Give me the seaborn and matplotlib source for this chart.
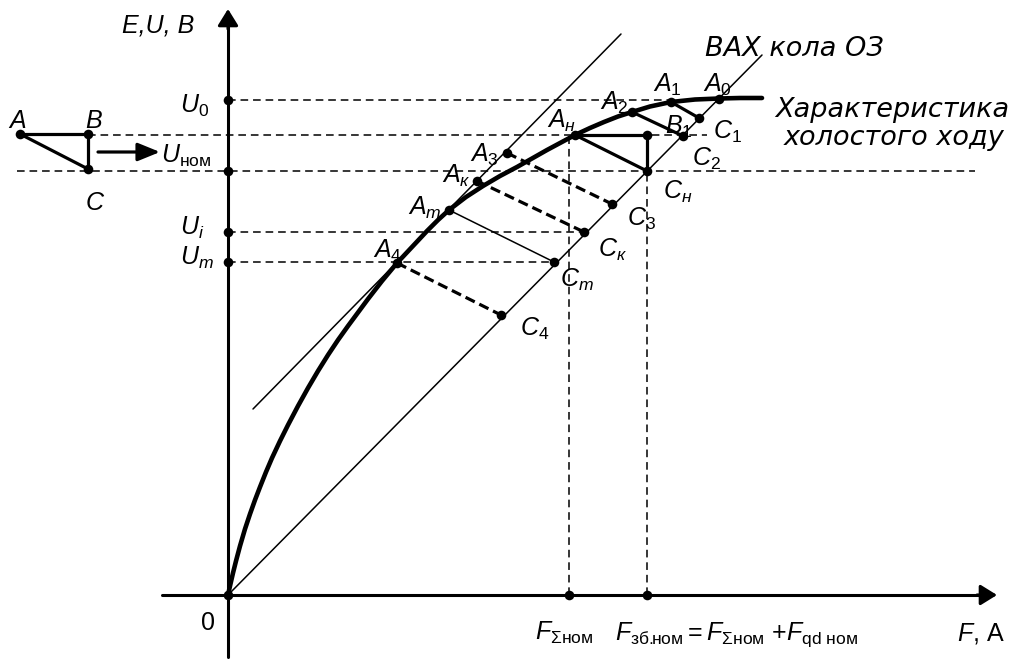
import matplotlib
matplotlib.use("Agg")
import matplotlib.pyplot as plt
import seaborn as sns
import numpy as np
import pandas as pd

# ---------------- data (F along horizontal, E/U along vertical) ----------------
# no-load characteristic ("Характеристика холостого ходу")
curve_F = [0, 2, 5, 8, 12, 17, 22, 27, 32, 38, 44, 52, 60, 70, 80, 90, 100, 110, 120, 130,
           140, 154, 169, 184, 199, 210, 221, 238, 255, 272, 289, 304, 319, 333, 347, 362,
           376, 390, 404, 422, 443, 467, 491, 512, 534]
curve_E = [0, 9, 22, 34, 49, 66, 81, 95, 108, 123, 137, 154, 170, 189, 207, 224, 240, 255, 269, 282.5,
           296, 314, 332, 348, 364, 375, 385, 398, 409, 419, 428, 436.5, 445, 452.5, 460, 467,
           473, 478.5, 483, 488.5, 493, 495.5, 496.5, 497, 497]

# straight volt-ampere characteristic of the circuit ("ВАХ кола ОЗ")
vax_F = [0, 534]
vax_E = [0, 540]

# thin tangent line parallel to the circuit line
tangent_F = [25, 393]
tangent_E = [186, 561]

# named construction points
point_names = ["O", "A0", "A1", "A2", "Aн", "A3", "Aк", "Am", "A4",
               "C1", "B1", "B", "Cн", "C3", "Cк", "Cm", "C4"]
point_F = [0, 491, 443, 404, 347, 279, 249, 221, 169,
           471, 455, 419, 419, 384, 356, 326, 273]
point_E = [0, 496, 493, 483, 460, 442, 414, 385, 332,
           477, 459, 460, 424, 391, 363, 333, 280]

# voltage levels marked on the vertical axis
u_names = ["U0", "Uном", "Ui", "Um"]
u_E = [495, 424, 363, 333]

# MMF values marked on the horizontal axis
f_names = ["FΣном", "Fзб.ном"]
f_F = [341, 419]

# small explanatory triangle A-B-C
tri_names = ["A", "B", "C"]
tri_F = [-208, -140, -140]
tri_E = [461, 461, 426]

# ---------------- style ----------------
sns.set_style("white")
plt.rcParams['font.family'] = ['Liberation Sans', 'DejaVu Sans']
plt.rcParams['text.color'] = 'black'
plt.rcParams['mathtext.fontset'] = 'custom'
plt.rcParams['mathtext.rm'] = 'Liberation Sans'
plt.rcParams['mathtext.it'] = 'Liberation Sans:italic'
plt.rcParams['mathtext.bf'] = 'Liberation Sans:bold'
plt.rcParams['mathtext.sf'] = 'Liberation Sans'
plt.rcParams['mathtext.default'] = 'it'

fig = plt.figure(figsize=(10.22, 6.59), dpi=100)
ax = fig.add_axes([0, 0, 1, 1])
ax.set_xlim(-228, 794)
ax.set_ylim(-64, 595)
ax.axis('off')

P = dict(zip(point_names, zip(point_F, point_E)))
U = dict(zip(u_names, u_E))
Fv = dict(zip(f_names, f_F))
T = dict(zip(tri_names, zip(tri_F, tri_E)))

K = 'black'
thin_dash = (0, (5.0, 3.2))
thick_dash = (0, (3.2, 1.6))


def seg(p, q, lw, ls='-'):
    df = pd.DataFrame({'F': [p[0], q[0]], 'E': [p[1], q[1]]})
    sns.lineplot(data=df, x='F', y='E', sort=False, estimator=None, ax=ax,
                 color=K, lw=lw, linestyle=ls, legend=False)


# ---------------- dashed guide lines ----------------
seg((0, U["U0"]), (P["A0"][0], U["U0"]), 1.1, thin_dash)
seg((T["B"][0], P["Aн"][1]), (479, P["Aн"][1]), 1.1, thin_dash)
seg((-211, U["Uном"]), (747, U["Uном"]), 1.1, thin_dash)
seg((0, U["Ui"]), (P["Cк"][0], U["Ui"]), 1.1, thin_dash)
seg((0, U["Um"]), (P["Cm"][0], U["Um"]), 1.1, thin_dash)
seg((Fv["FΣном"], 0), (Fv["FΣном"], P["Aн"][1]), 1.1, thin_dash)
seg((Fv["Fзб.ном"], 0), (Fv["Fзб.ном"], P["Cн"][1]), 1.1, thin_dash)

# ---------------- axes with arrows ----------------
seg((0, -62), (0, 572), 2.2)
seg((-66, 0), (755, 0), 2.2)
head = dict(arrowstyle="-|>,head_length=1.0,head_width=0.62", mutation_scale=10,
            lw=2.2, color=K, shrinkA=0, shrinkB=0)
ax.annotate("", xy=(0, 586), xytext=(0, 566), arrowprops=head)
ax.annotate("", xy=(769, 0), xytext=(749, 0), arrowprops=head)

# ---------------- main lines ----------------
sns.lineplot(x=curve_F, y=curve_E, sort=False, estimator=None, ax=ax,
             color=K, lw=3.3, legend=False)
sns.lineplot(x=vax_F, y=vax_E, sort=False, estimator=None, ax=ax,
             color=K, lw=1.1, legend=False)
sns.lineplot(x=tangent_F, y=tangent_E, sort=False, estimator=None, ax=ax,
             color=K, lw=1.1, legend=False)

# ---------------- construction segments ----------------
for a, b in [("Aн", "B"), ("B", "Cн"), ("Aн", "Cн"), ("A1", "C1"), ("A2", "B1")]:
    seg(P[a], P[b], 2.3)
for a, b in [("A3", "C3"), ("Aк", "Cк"), ("A4", "C4")]:
    seg(P[a], P[b], 2.3, thick_dash)
seg(P["Am"], P["Cm"], 1.1)

# small triangle + arrow
seg(T["A"], T["B"], 2.3)
seg(T["B"], T["C"], 2.3)
seg(T["A"], T["C"], 2.3)
ax.annotate("", xy=(-68, 443), xytext=(-130, 443),
            arrowprops=dict(arrowstyle="-|>,head_length=1.35,head_width=0.55",
                            mutation_scale=10, lw=2.3, color=K,
                            shrinkA=0, shrinkB=0))

# ---------------- dots ----------------
dot_F = point_F + [0] * len(u_E) + f_F + tri_F
dot_E = point_E + u_E + [0] * len(f_F) + tri_E
sns.scatterplot(x=dot_F, y=dot_E, s=48, color=K, linewidth=0, ax=ax,
                legend=False, zorder=5)

# ---------------- labels ----------------
fs = 18
lab = [
    ("$A_0$", 475, 503), ("$A_1$", 425, 503), ("$A_2$", 372, 485),
    ("$A_н$", 319, 467), ("$A_3$", 242, 433), ("$A_к$", 214, 412),
    ("$A_m$", 180, 380), ("$A_4$", 145, 337),
    ("$B_1$", 437, 461), ("$C_1$", 485, 456), ("$C_2$", 464, 429),
    ("$C_н$", 435, 396), ("$C_3$", 399, 369), ("$C_к$", 370, 338),
    ("$C_m$", 332, 308), ("$C_4$", 292, 259),
    ("$A$", -220, 467), ("$B$", -143, 467), ("$C$", -143, 385),
    ("$U_0$", -48, 482), (r"$U_{\mathrm{ном}}$", -67, 432),
    ("$U_i$", -48, 360), ("$U_m$", -48, 330),
    ("$0$", -28, -35),
    (r"$F_{\Sigma\mathrm{ном}}$", 307, -45),
    (r"$F_{\mathrm{зб.\!\!ном}} = F_{\Sigma\mathrm{ном}}\ {+}F_{\mathrm{qd\ ном}}$", 387, -45),
    (r"$F,\,\mathrm{A}$", 729, -45),
]
for s, x, y in lab:
    ax.text(x, y, s, fontsize=fs, ha='left', va='baseline', color=K)

ax.text(-106, 563, "E,U, B", fontsize=fs, fontstyle='italic', ha='left', va='baseline', color=K)
wide = ['DejaVu Sans']
ax.text(477, 539, "ВАХ кола ОЗ", fontsize=19.5, family=wide, fontstyle='italic',
        ha='left', va='baseline', color=K)
ax.text(664, 478, "Характеристика", fontsize=19.5, family=wide, fontstyle='italic',
        ha='center', va='baseline', color=K)
ax.text(666, 450, "холостого ходу", fontsize=19.5, family=wide, fontstyle='italic',
        ha='center', va='baseline', color=K)

fig.savefig("out.png", dpi=100)
